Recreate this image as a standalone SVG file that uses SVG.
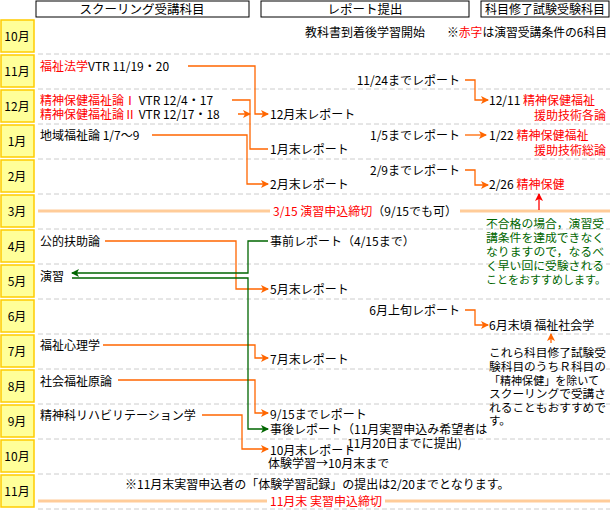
<svg xmlns="http://www.w3.org/2000/svg" width="610" height="510" viewBox="0 0 610 510">
<defs>
<marker id="ao" markerWidth="8" markerHeight="8" refX="7" refY="4" orient="auto" markerUnits="userSpaceOnUse"><path d="M0,0L8,4L0,8L2,4Z" fill="#FF6600"/></marker>
<marker id="ag" markerWidth="8" markerHeight="8" refX="7" refY="4" orient="auto" markerUnits="userSpaceOnUse"><path d="M0,0L8,4L0,8L2,4Z" fill="#006600"/></marker>
<marker id="ar" markerWidth="8" markerHeight="8" refX="7" refY="4" orient="auto" markerUnits="userSpaceOnUse"><path d="M0,0L8,4L0,8L2,4Z" fill="#FF0000"/></marker>
</defs>
<style>
text{font-family:"Noto Sans CJK JP","Noto Sans",sans-serif;font-size:12px;fill:#000}
.r{fill:#FF0000}.g{fill:#006600}
.p{font-size:11.5px}
.m rect{fill:#FFFF99;stroke:#FFCC00;stroke-width:1.5}
.m text{text-anchor:middle}
.h rect{fill:#fff;stroke:#000}
.h text{text-anchor:middle;font-size:12.5px}
.d{stroke:#ccc;stroke-dasharray:5,3}
.o{fill:none;stroke:#FF6600;stroke-width:1.3;marker-end:url(#ao)}
.gl{fill:none;stroke:#006600;stroke-width:1.3}
.pk{stroke:#FFCC99;stroke-width:3}
</style>
<rect width="610" height="510" fill="#fff"/>
<g id="headers" class="h">
<rect x="36" y="1" width="213" height="16"/><text x="142" y="14">スクーリング受講科目</text>
<rect x="261" y="1" width="208" height="16"/><text x="365" y="14">レポート提出</text>
<rect x="481" y="1" width="128" height="16"/><text x="545" y="14" textLength="120" lengthAdjust="spacingAndGlyphs">科目修了試験受験科目</text>
</g>
<g id="months" class="m">
<rect x="1" y="20" width="33" height="32"/><text x="17" y="41">10月</text>
<rect x="1" y="55" width="33" height="32"/><text x="17" y="76">11月</text>
<rect x="1" y="90" width="33" height="32"/><text x="17" y="111">12月</text>
<rect x="1" y="125" width="33" height="32"/><text x="17" y="146">1月</text>
<rect x="1" y="160" width="33" height="32"/><text x="17" y="181">2月</text>
<rect x="1" y="195" width="33" height="32"/><text x="17" y="216">3月</text>
<rect x="1" y="230" width="33" height="32"/><text x="17" y="251">4月</text>
<rect x="1" y="265" width="33" height="32"/><text x="17" y="286">5月</text>
<rect x="1" y="300" width="33" height="32"/><text x="17" y="321">6月</text>
<rect x="1" y="335" width="33" height="32"/><text x="17" y="356">7月</text>
<rect x="1" y="370" width="33" height="32"/><text x="17" y="391">8月</text>
<rect x="1" y="405" width="33" height="32"/><text x="17" y="426">9月</text>
<rect x="1" y="440" width="33" height="32"/><text x="17" y="461">10月</text>
<rect x="1" y="475" width="33" height="32"/><text x="17" y="496">11月</text>
</g>
<g id="grid">
<path class="d" d="M38,54H610M38,89H610M38,124H610M38,159H610M38,194H610M38,229H610M38,264H610M38,299H610M38,334H610M38,369H610M38,404H610M38,439H610M38,474H610M38,509H610"/>
<path class="pk" d="M38,211H270M460,211H610M38,501H267M385,501H610"/>
</g>
<g id="connectors">
<path class="o" d="M188,66H255V114H268"/>
<path class="o" d="M232,100H250V149H268M238,114H250"/>
<path class="o" d="M152,135H247V184H268"/>
<path class="o" d="M465,80H475V100H488"/>
<path class="o" d="M465,135H486"/>
<path class="o" d="M465,170H475V185H488"/>
<path class="o" d="M105,241H236V289H268"/>
<path class="o" d="M465,310H475V325H488"/>
<path class="o" d="M103,345H255V358H268"/>
<path class="o" d="M118,380H255V413H268"/>
<path class="o" d="M202,415H242V449H268"/>
<path class="gl" d="M268,241H248V273H72" marker-end="url(#ag)"/>
<path class="gl" d="M72,278H248V429H268" marker-end="url(#ag)"/>
<path d="M539,210V194" stroke="#FF0000" stroke-width="1.3" marker-end="url(#ar)"/>
<path d="M551,343V334" stroke="#FF6600" stroke-width="1.3" marker-end="url(#ao)"/>
</g>
<g id="texts">
<text x="305" y="37">教科書到着後学習開始</text>
<text x="447" y="37" textLength="160" lengthAdjust="spacingAndGlyphs">※<tspan class="r">赤字</tspan>は演習受講条件の6科目</text>
<text x="40" y="71"><tspan class="r">福祉法学</tspan>VTR 11/19・20</text>
<text x="40" y="105"><tspan class="r">精神保健福祉論Ⅰ</tspan> VTR 12/4・17</text>
<text x="40" y="119"><tspan class="r">精神保健福祉論Ⅱ</tspan> VTR 12/17・18</text>
<text x="40" y="140">地域福祉論 1/7〜9</text>
<text x="270" y="119">12月末レポート</text>
<text x="270" y="154">1月末レポート</text>
<text x="270" y="189">2月末レポート</text>
<text x="460" y="85" text-anchor="end">11/24までレポート</text>
<text x="460" y="140" text-anchor="end">1/5までレポート</text>
<text x="460" y="175" text-anchor="end">2/9までレポート</text>
<text x="489" y="105">12/11 <tspan class="r">精神保健福祉</tspan></text>
<text x="606" y="120" text-anchor="end" class="r">援助技術各論</text>
<text x="489" y="140">1/22 <tspan class="r">精神保健福祉</tspan></text>
<text x="606" y="155" text-anchor="end" class="r">援助技術総論</text>
<text x="489" y="189">2/26 <tspan class="r">精神保健</tspan></text>
<text x="365" y="216" text-anchor="middle"><tspan class="r">3/15 演習申込締切</tspan>（9/15でも可）</text>
<text x="486" y="228" class="g p" textLength="118" lengthAdjust="spacingAndGlyphs">不合格の場合，演習受</text>
<text x="486" y="242" class="g p" textLength="118" lengthAdjust="spacingAndGlyphs">講条件を達成できなく</text>
<text x="486" y="256" class="g p" textLength="118" lengthAdjust="spacingAndGlyphs">なりますので，なるべ</text>
<text x="486" y="270" class="g p" textLength="118" lengthAdjust="spacingAndGlyphs">く早い回に受験される</text>
<text x="486" y="284" class="g p" textLength="120" lengthAdjust="spacingAndGlyphs">ことをおすすめします。</text>
<text x="40" y="246">公的扶助論</text>
<text x="270" y="246">事前レポート（4/15まで）</text>
<text x="40" y="281">演習</text>
<text x="270" y="294">5月末レポート</text>
<text x="460" y="315" text-anchor="end">6月上旬レポート</text>
<text x="489" y="330">6月末頃 福祉社会学</text>
<text x="489" y="357" class="p" textLength="117" lengthAdjust="spacingAndGlyphs">これら科目修了試験受</text>
<text x="489" y="371" class="p" textLength="117" lengthAdjust="spacingAndGlyphs">験科目のうちＲ科目の</text>
<text x="489" y="385" class="p" textLength="110" lengthAdjust="spacingAndGlyphs">「精神保健」を除いて</text>
<text x="489" y="398" class="p" textLength="117" lengthAdjust="spacingAndGlyphs">スクーリングで受講さ</text>
<text x="489" y="412" class="p" textLength="117" lengthAdjust="spacingAndGlyphs">れることもおすすめで</text>
<text x="489" y="425" class="p">す。</text>
<text x="40" y="350">福祉心理学</text>
<text x="270" y="364">7月末レポート</text>
<text x="40" y="386">社会福祉原論</text>
<text x="270" y="419">9/15までレポート</text>
<text x="40" y="420">精神科リハビリテーション学</text>
<text x="270" y="434">事後レポート（11月実習申込み希望者は</text>
<text x="347" y="448">11月20日までに提出)</text>
<text x="270" y="455">10月末レポート</text>
<text x="268" y="468">体験学習→10月末まで</text>
<text x="125" y="489">※11月末実習申込者の「体験学習記録」の提出は2/20までとなります。</text>
<text x="326" y="506" text-anchor="middle" class="r">11月末 実習申込締切</text>
</g>
</svg>
